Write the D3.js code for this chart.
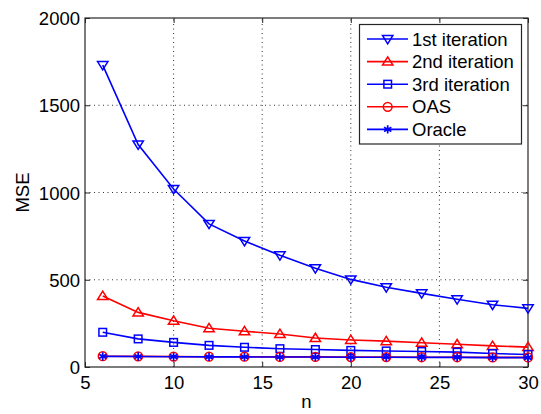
<!DOCTYPE html>
<html>
<head>
<meta charset="utf-8">
<script src="https://cdn.jsdelivr.net/npm/d3@7"></script>
<style>
  html, body { margin: 0; padding: 0; background: #fff; }
  svg text { font-family: "Liberation Sans", Arial, sans-serif; font-size: 18.5px; fill: #000; }
</style>
</head>
<body>
<svg id="chart" width="541" height="414"></svg>
<script>
// Sample sizes
const nValues = [6, 8, 10, 12, 14, 16, 18, 20, 22, 24, 26, 28, 30];
// MSE per estimator
const iter1 = [1730, 1275, 1020, 820, 722, 640, 566, 502, 457, 422, 388, 357, 336];
const iter2 = [407, 313, 265, 222, 205, 189, 166, 155, 148, 139, 130, 121, 114];
const iter3 = [199, 161, 141, 124, 113, 105, 100, 95, 92, 89, 85, 77, 72];
const oas = [62, 61, 60, 59, 59, 58, 58, 57, 57, 56, 56, 55, 55];
const oracle = [61, 60, 59, 58, 58, 57, 57, 56, 56, 55, 55, 54, 54];
// Axis ticks
const xTicks = [5, 10, 15, 20, 25, 30];
const yTicks = [0, 500, 1000, 1500, 2000];
const seriesNames = ["1st iteration", "2nd iteration", "3rd iteration", "OAS", "Oracle"];

const series = [
  { name: seriesNames[0], values: iter1, color: "#0000ff", marker: "tridown" },
  { name: seriesNames[1], values: iter2, color: "#ff0000", marker: "triup" },
  { name: seriesNames[2], values: iter3, color: "#0000ff", marker: "square" },
  { name: seriesNames[3], values: oas, color: "#ff0000", marker: "circle" },
  { name: seriesNames[4], values: oracle, color: "#0000ff", marker: "star" }
];

const svg = d3.select("#chart");
const plotL = 85, plotR = 528, plotT = 18, plotB = 367;

const x = d3.scaleLinear().domain([5, 30]).range([plotL, plotR]);
const y = d3.scaleLinear().domain([0, 2000]).range([plotB, plotT]);

// Dotted grid
const grid = svg.append("g").attr("stroke", "#333").attr("stroke-width", 1)
  .attr("stroke-dasharray", "1,3.5");
xTicks.slice(1, -1).forEach(t => {
  grid.append("line").attr("x1", x(t)).attr("x2", x(t)).attr("y1", plotB).attr("y2", plotT);
});
yTicks.slice(1, -1).forEach(t => {
  grid.append("line").attr("x1", plotL).attr("x2", plotR).attr("y1", y(t)).attr("y2", y(t));
});

// Axes with inward ticks
const tickLen = 5;
const fmt = d3.format("d");
const xAxis = d3.axisBottom(x).tickValues(xTicks).tickFormat(fmt).tickSizeInner(-tickLen).tickSizeOuter(0);
const yAxis = d3.axisLeft(y).tickValues(yTicks).tickFormat(fmt).tickSizeInner(-tickLen).tickSizeOuter(0).tickPadding(5);
const xTop = d3.axisTop(x).tickValues(xTicks).tickSizeInner(-tickLen).tickSizeOuter(0).tickFormat("");
const yRight = d3.axisRight(y).tickValues(yTicks).tickSizeInner(-tickLen).tickSizeOuter(0).tickFormat("");

function styleAxis(g) {
  g.select(".domain").remove();
  g.selectAll("line").attr("stroke", "#262626").attr("stroke-width", 1);
  g.selectAll("text").attr("font-size", null).attr("font-family", null).attr("fill", "#000");
}
svg.append("g").attr("transform", `translate(0,${plotB})`).call(xAxis).call(styleAxis)
  .selectAll("text").attr("y", 22).attr("dy", 0);
svg.append("g").attr("transform", `translate(${plotL},0)`).call(yAxis).call(styleAxis)
  .selectAll("text").attr("dy", "0.36em");
svg.append("g").attr("transform", `translate(0,${plotT})`).call(xTop).call(styleAxis);
svg.append("g").attr("transform", `translate(${plotR},0)`).call(yRight).call(styleAxis);

// Frame
svg.append("rect").attr("x", plotL).attr("y", plotT).attr("width", plotR - plotL).attr("height", plotB - plotT)
  .attr("fill", "none").attr("stroke", "#262626").attr("stroke-width", 1.2);

// Axis labels
svg.append("text").attr("x", (plotL + plotR) / 2).attr("y", 408).attr("text-anchor", "middle").text("n");
svg.append("text").attr("transform", `translate(29,${(plotT + plotB) / 2}) rotate(-90)`)
  .attr("text-anchor", "middle").text("MSE");

// Marker drawing
function drawMarker(g, type, cx, cy, color) {
  const s = g.append("g").attr("transform", `translate(${cx},${cy})`)
    .attr("fill", "none").attr("stroke", color).attr("stroke-width", 1.5);
  if (type === "tridown") {
    s.append("path").attr("d", "M-5.2,-3.5L5.2,-3.5L0,4.8Z");
  } else if (type === "triup") {
    s.append("path").attr("d", "M-5.2,3.5L5.2,3.5L0,-4.8Z");
  } else if (type === "square") {
    s.append("rect").attr("x", -3.8).attr("y", -3.8).attr("width", 7.6).attr("height", 7.6);
  } else if (type === "circle") {
    s.append("circle").attr("r", 4.4);
  } else if (type === "star") {
    const r = 4.2;
    s.append("path").attr("stroke-width", 1.7).attr("d",
      `M0,${-r}L0,${r}M${-r * 0.87},${-r * 0.5}L${r * 0.87},${r * 0.5}M${-r * 0.87},${r * 0.5}L${r * 0.87},${-r * 0.5}`);
  }
}

const line = d3.line().x(d => x(d[0])).y(d => y(d[1]));
const plot = svg.append("g");
series.forEach(s => {
  const pts = nValues.map((n, i) => [n, s.values[i]]);
  plot.append("path").datum(pts).attr("d", line).attr("fill", "none")
    .attr("stroke", s.color).attr("stroke-width", 1.6);
  const mg = plot.append("g");
  pts.forEach(p => drawMarker(mg, s.marker, x(p[0]), y(p[1]), s.color));
});

// Legend
const lg = svg.append("g");
const lx = 359.5, ly = 24.5, lw = 162, lh = 119.5;
lg.append("rect").attr("x", lx).attr("y", ly).attr("width", lw).attr("height", lh)
  .attr("fill", "#fff").attr("stroke", "#262626").attr("stroke-width", 1.2);
series.forEach((s, i) => {
  const yy = 39 + i * 22.6;
  lg.append("line").attr("x1", 367).attr("x2", 408).attr("y1", yy).attr("y2", yy)
    .attr("stroke", s.color).attr("stroke-width", 1.6);
  drawMarker(lg, s.marker, 387.7, yy, s.color);
  lg.append("text").attr("x", 412).attr("y", yy).attr("dy", "0.36em").text(s.name);
});
</script>
</body>
</html>
